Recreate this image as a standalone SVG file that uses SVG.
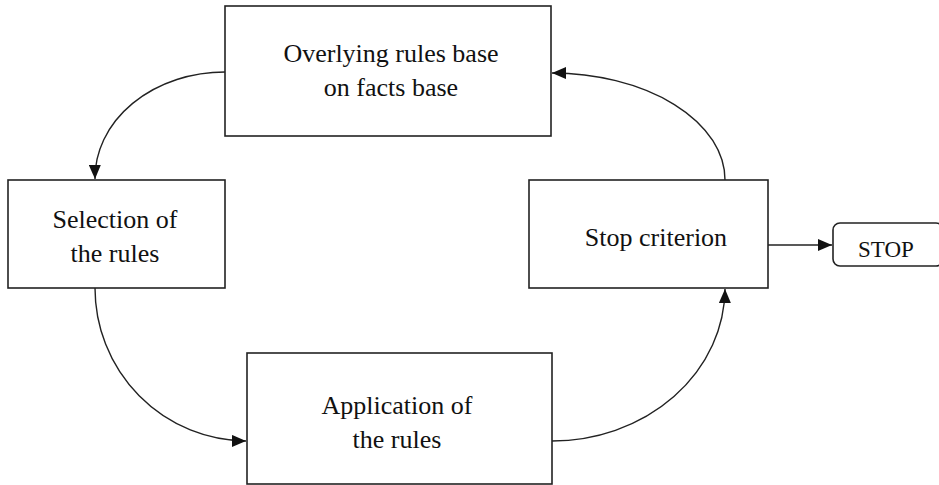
<svg xmlns="http://www.w3.org/2000/svg" width="939" height="485" viewBox="0 0 939 485">
<style>
.box{fill:#fff;stroke:#222;stroke-width:1.6}
.lbl{font-family:"Liberation Serif","Times New Roman",serif;font-size:26px;fill:#111;text-anchor:middle}
.c{fill:none;stroke:#222;stroke-width:1.4}
</style>
<defs>
<marker id="ah" markerUnits="userSpaceOnUse" markerWidth="14" markerHeight="12" viewBox="0 0 14 12" refX="14" refY="6" orient="auto">
<path d="M0,0 L14,6 L0,12 Z" fill="#111"/>
</marker>
</defs>
<rect width="939" height="485" fill="#fff"/>
<g id="connectors">
<path class="c" d="M225,72 A130,106 0 0 0 95,179" marker-end="url(#ah)"/>
<path class="c" d="M95,288 A152,153 0 0 0 246,441" marker-end="url(#ah)"/>
<path class="c" d="M552,441 A173,153 0 0 0 725,289" marker-end="url(#ah)"/>
<path class="c" d="M725,180 A174,107 0 0 0 552,73" marker-end="url(#ah)"/>
<path class="c" d="M768,245 L832,245" marker-end="url(#ah)"/>
</g>
<g id="overlying">
<rect class="box" x="225" y="6" width="326" height="130"/>
<text class="lbl" x="391" y="62">Overlying rules base</text>
<text class="lbl" x="391" y="96">on facts base</text>
</g>
<g id="selection">
<rect class="box" x="8" y="180" width="217" height="108"/>
<text class="lbl" x="115" y="228">Selection of</text>
<text class="lbl" x="115" y="262">the rules</text>
</g>
<g id="application">
<rect class="box" x="247" y="353" width="305" height="131"/>
<text class="lbl" x="397" y="414">Application of</text>
<text class="lbl" x="397" y="448">the rules</text>
</g>
<g id="stopcrit">
<rect class="box" x="529" y="180" width="239" height="108"/>
<text class="lbl" x="656" y="246">Stop criterion</text>
</g>
<g id="stop">
<rect class="box" x="833" y="223" width="110" height="43" rx="7"/>
<text class="lbl" x="886" y="257" style="font-size:23px">STOP</text>
</g>
</svg>
